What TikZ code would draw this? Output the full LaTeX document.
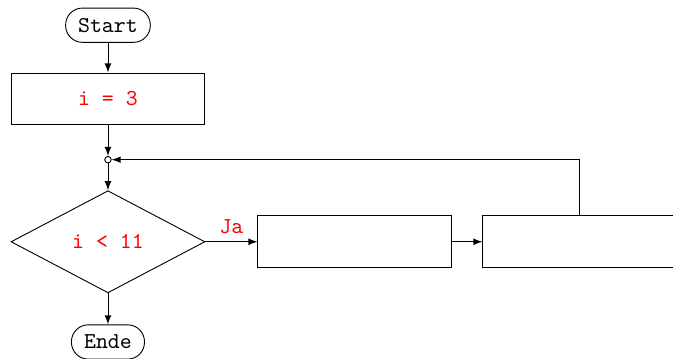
\documentclass[tikz,border=0pt]{standalone}
\usetikzlibrary{shapes.geometric,arrows}
\begin{document}
\begin{tikzpicture}[>=latex, every node/.style={font=\ttfamily},
  term/.style={draw, rectangle, rounded corners=2.6mm, minimum height=5.3mm, inner sep=2pt},
  proc/.style={draw, minimum width=3cm, minimum height=8mm},
  decision/.style={draw, diamond, aspect=1.9, minimum width=3cm, minimum height=1.58cm, inner sep=0pt},
  junct/.style={draw, circle, fill=white, inner sep=0pt, minimum size=1mm}]
\useasboundingbox (0,0) rectangle (10.41,5.55);
% Main column
\node[term, minimum width=1.31cm] (start) at (1.67,5.16) {Start};
\node[proc, text=red] (init) at (1.67,4.02) {i = 3};
\node[junct] (join) at (1.67,3.08) {};
\node[decision, text=red] (cond) at (1.67,1.81) {i < 11};
\node[term, minimum width=1.13cm] (stop) at (1.67,0.26) {Ende};
% Loop body
\node[proc] (body1) at (5.49,1.81) {};
\node[proc] (body2) at (8.97,1.81) {};
% Connectors
\draw[->] (start) -- (init);
\draw[->] (init) -- (join);
\draw[->] (join) -- (cond);
\draw[->] (cond) -- (stop);
\draw[->] (cond) -- node[above, text=red] {Ja} (body1);
\draw[->] (body1) -- (body2);
\draw[->] (body2.north) |- (join);
\end{tikzpicture}
\end{document}
